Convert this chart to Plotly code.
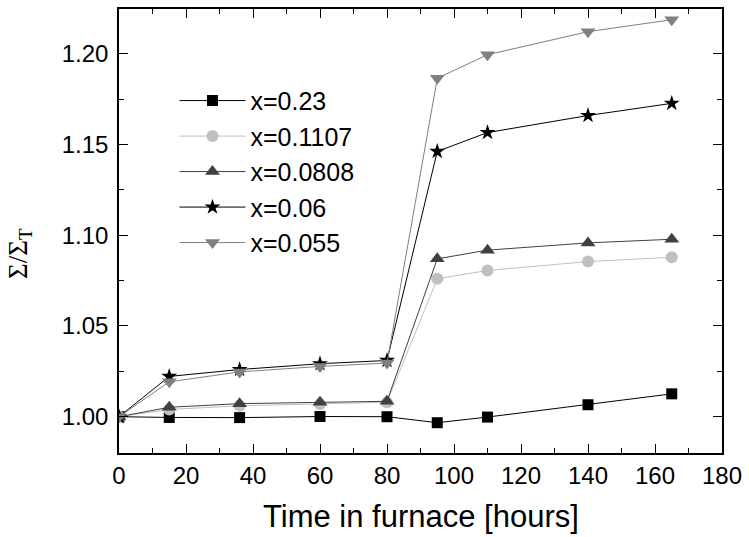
import plotly.graph_objects as go

# Time in furnace (hours) at which each sample was measured
hours = [0, 15, 36, 60, 80, 95, 110, 140, 165]

# Normalised cross-section Sigma/Sigma_T for each composition
sig_023 = [1.000, 0.9996, 0.9995, 1.0001, 1.0000, 0.9967, 0.9998, 1.0066, 1.0126]
sig_01107 = [1.000, 1.004, 1.006, 1.007, 1.008, 1.076, 1.0806, 1.0855, 1.0879]
sig_00808 = [1.000, 1.0052, 1.0072, 1.0080, 1.0085, 1.087, 1.0918, 1.0958, 1.0978]
sig_006 = [1.000, 1.0222, 1.0260, 1.0292, 1.0310, 1.1462, 1.1566, 1.1660, 1.1727]
sig_0055 = [1.000, 1.0192, 1.0247, 1.0277, 1.0296, 1.1865, 1.1995, 1.2122, 1.2188]

labels = ["x=0.23", "x=0.1107", "x=0.0808", "x=0.06", "x=0.055"]
x_ticks = list(range(0, 181, 20))
y_ticks = [1.00, 1.05, 1.10, 1.15, 1.20]

series = [
    (labels[0], sig_023, "square", "#000000", "#000000", 11),
    (labels[1], sig_01107, "circle", "#c0c0c0", "#c0c0c0", 12),
    (labels[2], sig_00808, "triangle-up", "#404040", "#404040", 13),
    (labels[3], sig_006, "star", "#000000", "#000000", 12),
    (labels[4], sig_0055, "triangle-down", "#808080", "#808080", 13),
]

fig = go.Figure()
for name, ys, sym, mcol, lcol, msize in series:
    fig.add_trace(go.Scatter(
        x=hours, y=ys, name=name, mode="lines+markers",
        line=dict(color=lcol, width=1),
        marker=dict(symbol=sym, color=mcol, size=msize, line=dict(width=0)),
    ))

axis_common = dict(
    showline=True, linecolor="black", linewidth=1.5, mirror="ticks",
    ticks="inside", ticklen=9, tickwidth=1.3, tickcolor="black",
    showgrid=False, zeroline=False,
    tickfont=dict(family="Liberation Sans, Arial", size=24, color="black"),
)

fig.update_xaxes(
    range=[0, 180], tickvals=x_ticks, ticklabelstandoff=0,
    minor=dict(ticks="inside", ticklen=5, dtick=10, tickcolor="black", tickwidth=1.3),
    **axis_common,
)
fig.update_yaxes(
    range=[0.98, 1.2247], tickvals=y_ticks, tickformat=".2f", ticklabelstandoff=4,
    minor=dict(ticks="inside", ticklen=5, dtick=0.025, tick0=1.0, tickcolor="black", tickwidth=1.3),
    **axis_common,
)

fig.add_annotation(
    text="Time in furnace [hours]", xref="paper", yref="paper",
    x=0.5, y=-0.143, yanchor="middle", showarrow=False,
    font=dict(family="Liberation Sans, Arial", size=31, color="black"),
)
fig.add_annotation(
    text="Σ/Σ<sub>T</sub>",
    xref="paper", yref="paper", x=-0.196, y=0.45, textangle=-90,
    showarrow=False,
    font=dict(family="Liberation Serif, Times New Roman", size=27, color="black"),
)

fig.update_layout(
    width=749, height=537,
    margin=dict(l=119, r=25, t=7, b=84),
    paper_bgcolor="white", plot_bgcolor="white",
    showlegend=True,
    legend=dict(
        x=0.092, y=0.845, xanchor="left", yanchor="top",
        bgcolor="rgba(0,0,0,0)", itemwidth=66,
        font=dict(family="Liberation Sans, Arial", size=25, color="black"),
    ),
)

fig.write_html("out.html")
